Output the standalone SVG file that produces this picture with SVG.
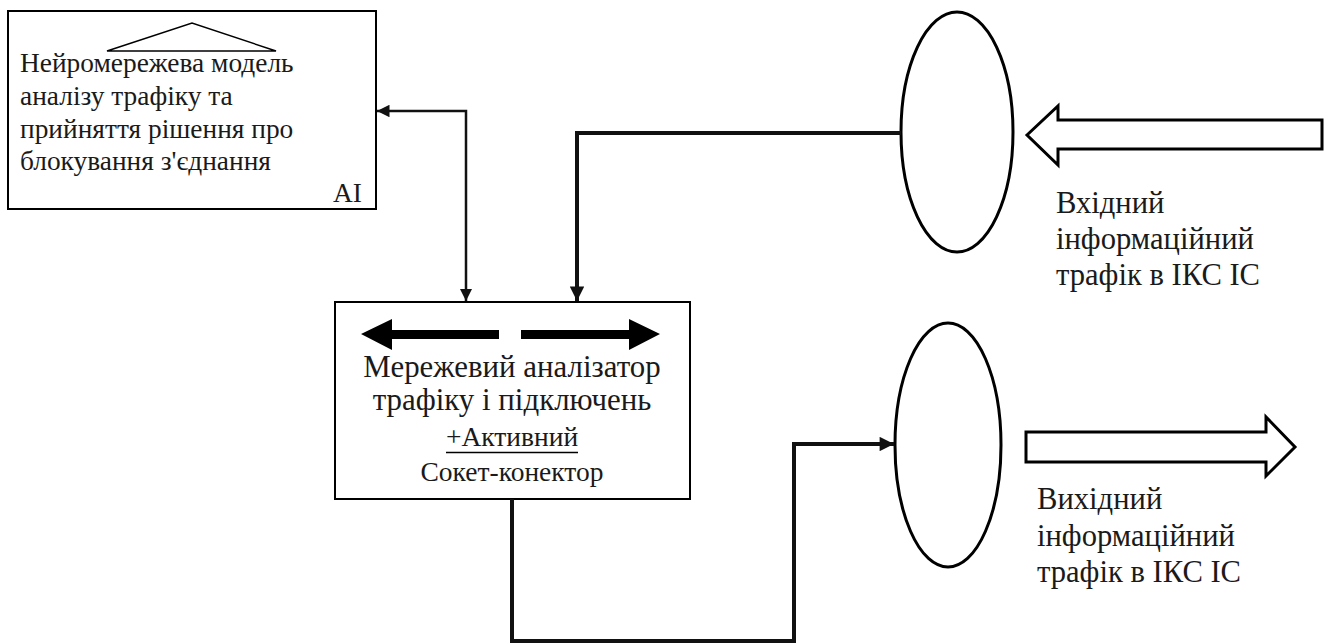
<svg xmlns="http://www.w3.org/2000/svg" width="1331" height="644" viewBox="0 0 1331 644">
  <style>
    .box { fill: #ffffff; stroke: #000000; stroke-width: 2; }
    .oval { fill: #ffffff; stroke: #000000; stroke-width: 3; }
    .txt { font-family: "Liberation Serif", "Times New Roman", serif; fill: #1a1a1a; }
    .thin { fill: none; stroke: #111111; stroke-width: 2.5; }
    .thick { fill: none; stroke: #111111; stroke-width: 4; }
    .block { fill: #ffffff; stroke: #000000; stroke-width: 3; stroke-linejoin: miter; }
  </style>
  <defs>
    <marker id="headThin" viewBox="0 0 10 10" refX="10" refY="5" markerWidth="5" markerHeight="5" orient="auto-start-reverse" markerUnits="strokeWidth">
      <path d="M0,0 L10,5 L0,10 z" fill="#111111"/>
    </marker>
    <marker id="headThick" viewBox="0 0 10 10" refX="10" refY="5" markerWidth="4" markerHeight="3.6" orient="auto" markerUnits="strokeWidth">
      <path d="M0,0 L10,5 L0,10 z" fill="#111111"/>
    </marker>
  </defs>

  <rect width="1331" height="644" fill="#ffffff"/>

  <!-- AI decision model -->
  <g id="ai-model">
    <rect class="box" x="8" y="11" width="368" height="198"/>
    <path d="M107,51 L192,23 L276,51 Z" fill="none" stroke="#000" stroke-width="1.5"/>
    <text class="txt" font-size="27.4" x="20" y="72">Нейромережева модель</text>
    <text class="txt" font-size="27.4" x="20" y="105">аналізу трафіку та</text>
    <text class="txt" font-size="27.4" x="20" y="138">прийняття рішення про</text>
    <text class="txt" font-size="27.4" x="20" y="170">блокування з'єднання</text>
    <text class="txt" font-size="27.4" x="333" y="202">AI</text>
  </g>

  <!-- Network analyzer -->
  <g id="analyzer">
    <rect class="box" x="335" y="302" width="355" height="197"/>
    <path d="M361,334 L392,319 L392,330 L499,330 L499,339 L392,339 L392,350 Z" fill="#000"/>
    <path d="M660,334 L629,319 L629,330 L521,330 L521,339 L629,339 L629,350 Z" fill="#000"/>
    <text class="txt" font-size="30.9" x="512" y="377" text-anchor="middle">Мережевий аналізатор</text>
    <text class="txt" font-size="30.9" x="512" y="410" text-anchor="middle">трафіку і підключень</text>
    <text class="txt" font-size="27.5" x="512" y="446" text-anchor="middle">+Активний</text>
    <line x1="446" y1="452.5" x2="578" y2="452.5" stroke="#000" stroke-width="1.3"/>
    <text class="txt" font-size="27.5" x="512" y="481" text-anchor="middle">Сокет-конектор</text>
  </g>

  <!-- Input port -->
  <g id="input-port">
    <ellipse class="oval" cx="957" cy="132" rx="56" ry="120"/>
  </g>

  <!-- Output port -->
  <g id="output-port">
    <ellipse class="oval" cx="948" cy="445" rx="53" ry="122"/>
  </g>

  <!-- Incoming traffic -->
  <g id="incoming">
    <path class="block" d="M1027,135 L1058,106 L1058,120 L1322,120 L1322,149 L1058,149 L1058,165 Z"/>
    <text class="txt" font-size="30.6" x="1056" y="213">Вхідний</text>
    <text class="txt" font-size="30.6" x="1056" y="249">інформаційний</text>
    <text class="txt" font-size="30.6" x="1056" y="285">трафік в ІКС ІС</text>
  </g>

  <!-- Outgoing traffic -->
  <g id="outgoing">
    <path class="block" d="M1026,432 L1266,432 L1266,417 L1295,447 L1266,476 L1266,462 L1026,462 Z"/>
    <text class="txt" font-size="30.6" x="1037" y="509">Вихідний</text>
    <text class="txt" font-size="30.6" x="1037" y="546">інформаційний</text>
    <text class="txt" font-size="30.6" x="1037" y="582">трафік в ІКС ІС</text>
  </g>

  <!-- Connectors -->
  <g id="connectors">
    <path class="thin" d="M466,301 L466,111 L377,111" marker-start="url(#headThin)" marker-end="url(#headThin)"/>
    <path class="thick" d="M901,133 L577,133 L577,301" marker-end="url(#headThick)"/>
    <path class="thick" d="M512,499 L512,641 L794,641 L794,444 L894,444" marker-end="url(#headThick)"/>
  </g>
</svg>
